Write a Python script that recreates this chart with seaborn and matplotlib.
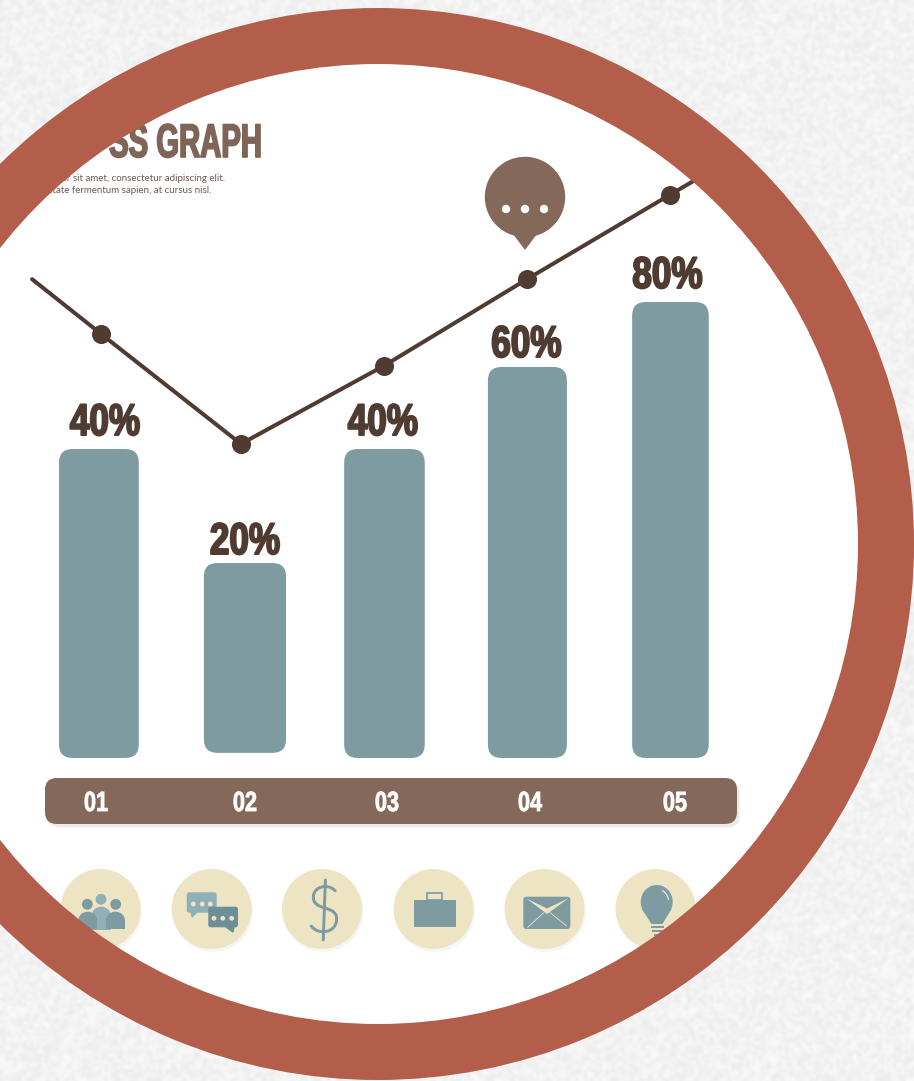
import matplotlib
matplotlib.use("Agg")
import matplotlib.patheffects as pe
import matplotlib.pyplot as plt
import numpy as np
import seaborn as sns
from matplotlib.patches import Arc, Circle, Ellipse, FancyBboxPatch, Polygon, Rectangle, Wedge
from matplotlib.transforms import Affine2D

categories = ["01", "02", "03", "04", "05"]
bar_labels = ["40%", "20%", "40%", "60%", "80%"]
bar_values = [54.2, 34.2, 54.2, 68.6, 80.0]
bar_bases = [0, 0.9, 0, 0, 0]
line_x = [-0.48, 0.004, 0.986, 1.989, 2.993, 3.996, 4.488]
line_values = [84.0, 74.4, 55.1, 68.8, 84.0, 98.8, 106.0]

RING = "#b25e4a"
TEAL = "#7d9ba1"
TEAL_LIGHT = "#8fb0b8"
TEAL_DARK = "#6d8f98"
BROWN = "#84695a"
DARK = "#4f3b32"
CREAM = "#ede4c4"
PAPER = "#efefef"
CONDENSED = ["Liberation Sans", "DejaVu Sans"]

sns.set_style("white")
plt.rcParams["font.family"] = ["Lato", "DejaVu Sans"]


class Squeezed(pe.Stroke):
    # thicker, narrower letters, the fonts here have nothing like Impact
    def __init__(self, anchor, sx, width, color):
        super().__init__(linewidth=width, foreground=color)
        self.anchor = anchor
        self.sx = sx

    def draw_path(self, renderer, gc, tpath, affine, rgbFace):
        squeeze = Affine2D().translate(-self.anchor, 0).scale(self.sx, 1).translate(self.anchor, 0)
        super().draw_path(renderer, gc, tpath, affine + squeeze, rgbFace)


def heavy_text(axis, x, y, s, size, color, sx, width, ha="center"):
    txt = axis.text(x, y, s, fontsize=size, fontweight="bold", color=color, ha=ha, va="baseline", family=CONDENSED)
    anchor = axis.transData.transform((x, y))[0]
    txt.set_path_effects([Squeezed(anchor, sx, width, color)])
    return txt


fig = plt.figure(figsize=(9.14, 10.81), dpi=100, facecolor=PAPER)


def pixel_axes(z):
    axis = fig.add_axes([0, 0, 1, 1], zorder=z)
    axis.set_xlim(0, 914)
    axis.set_ylim(1081, 0)
    axis.axis("off")
    return axis


# paper grain and white disc
back = pixel_axes(0)
yy, xx = np.mgrid[0:361, 0:305]
grain = np.modf(np.abs(np.sin(xx * 127.1 + yy * 311.7)) * 43758.5453)[0]
back.imshow(0.915 + 0.07 * grain, cmap="gray", vmin=0, vmax=1, extent=(0, 914, 1081, 0), aspect="auto", interpolation="bicubic")
back.set_xlim(0, 914)
back.set_ylim(1081, 0)
back.add_patch(Circle((378, 544), 500, color="white"))

# title, bubble, band, icons
decor = pixel_axes(1)
heavy_text(decor, 262, 157, "SS GRAPH", 34, "#7f6558", 0.62, 1.2, ha="right")
decor.text(225, 178.5, "dolor sit amet, consectetur adipiscing elit.", fontsize=7.05, color="#6b5a50", ha="right", va="center")
decor.text(211, 190.5, "Vulputate fermentum sapien, at cursus nisl.", fontsize=7.05, color="#6b5a50", ha="right", va="center")

decor.add_patch(Circle((525, 197), 39.5, color=BROWN))
decor.add_patch(Polygon([(510, 230), (540, 230), (525, 250)], color=BROWN, lw=0))
for dot_x in (506, 525, 544):
    decor.add_patch(Circle((dot_x, 209), 3.5, color="white"))

shadow = [pe.SimplePatchShadow(offset=(2, -2.5), shadow_rgbFace="#000000", alpha=0.08), pe.Normal()]
decor.add_patch(FancyBboxPatch((45, 778), 692, 46, boxstyle="round,pad=0,rounding_size=12", fc=BROWN, ec="none", path_effects=shadow))
for lab, lab_x in zip(categories, [96, 245, 387, 530, 675]):
    heavy_text(decor, lab_x, 811, lab, 20, "white", 0.78, 0.6)

soft = [pe.SimplePatchShadow(offset=(1, -2), shadow_rgbFace="#000000", alpha=0.04), pe.Normal()]
for icon_x in (100.6, 211.6, 322, 433.5, 544.5, 655.5):
    decor.add_patch(Circle((icon_x, 909), 40, fc=CREAM, ec="none", path_effects=soft))


def dome(x0, x1, top, bottom, color):
    mid = top + (x1 - x0) * 0.45
    decor.add_patch(Ellipse(((x0 + x1) / 2, mid), x1 - x0, 2 * (mid - top), color=color, lw=0))
    decor.add_patch(Rectangle((x0, mid), x1 - x0, bottom - mid, color=color, lw=0))


# people
decor.add_patch(Circle((101, 899.3), 4.7, color=TEAL_LIGHT))
dome(91.7, 110.7, 906.7, 930, TEAL_LIGHT)
for head_x, x0, x1 in ((87.3, 78.3, 97.3), (115.7, 105.7, 125)):
    decor.add_patch(Circle((head_x, 904.3), 4.7, color=TEAL))
    dome(x0, x1, 911.7, 929.3, TEAL)

# chat bubbles
decor.add_patch(FancyBboxPatch((186.7, 892.3), 30, 20.4, boxstyle="round,pad=0,rounding_size=2.5", fc=TEAL_LIGHT, ec="none"))
decor.add_patch(Polygon([(191, 912), (197, 912), (192, 917)], color=TEAL_LIGHT))
decor.add_patch(FancyBboxPatch((208.3, 906.7), 29.7, 20.6, boxstyle="round,pad=0,rounding_size=2.5", fc=TEAL_DARK, ec="none"))
decor.add_patch(Polygon([(226, 927), (234, 927), (233, 932)], color=TEAL_DARK))
for dot_x, dot_y in ((193.3, 904), (202.3, 904), (210.3, 904), (214, 918.3), (222.7, 918.3), (231.7, 918.3)):
    decor.add_patch(Circle((dot_x, dot_y), 1.7, color=CREAM))

# dollar
decor.text(324, 913, "$", fontsize=46, color=TEAL, ha="center", va="center", family=["Lato", "DejaVu Sans"], fontweight="light",
           path_effects=[pe.withStroke(linewidth=1.6, foreground=TEAL)])

# briefcase
decor.add_patch(Rectangle((413.7, 900.3), 42, 26.4, color=TEAL, lw=0))
decor.add_patch(Rectangle((427.3, 893), 14.7, 7.3, fc="none", ec=TEAL, lw=1.2))

# envelope
decor.add_patch(FancyBboxPatch((523.3, 896.7), 47, 32.3, boxstyle="round,pad=0,rounding_size=3", fc=TEAL, ec="none"))
decor.add_patch(Polygon([(526.5, 898.5), (547, 908.5), (569, 898), (547, 914)], color=CREAM, lw=0))
decor.plot([527.7, 544], [927.3, 912.5], color=CREAM, lw=0.6)
decor.plot([566.7, 550], [926, 912.5], color=CREAM, lw=0.6)

# bulb
decor.add_patch(Ellipse((656.7, 902), 32, 34, color=TEAL, lw=0))
decor.add_patch(Polygon([(642, 909), (651.5, 924), (662.5, 924), (671.5, 909)], color=TEAL, lw=0))
decor.add_patch(Rectangle((651, 925.5), 12.5, 2.5, color=TEAL, lw=0))
decor.add_patch(Rectangle((652, 929.5), 10.5, 2.5, color=TEAL, lw=0))
decor.add_patch(Rectangle((654, 933.5), 6.5, 2, color=TEAL, lw=0))
decor.add_patch(Arc((656.7, 902), 24, 26, theta1=-65, theta2=-10, color="#dfe8e8", lw=1))

# the chart itself
ax = fig.add_axes([0, 0, 1, 1], zorder=2)
ax.patch.set_alpha(0)
sns.barplot(x=categories, y=bar_values, color=TEAL, saturation=1, width=0.56, ax=ax)
ax.set_xlim(-0.705, 5.709)
ax.set_ylim(-56.67, 132.98)
ax.axis("off")

bar_shift = [-0.011, 0.014, -0.007, -0.004, 0.0]
bar_stretch = [1.0, 1.03, 1.01, 0.99, 0.96]
for bar, base, shift, stretch in zip(list(ax.patches), bar_bases, bar_shift, bar_stretch):
    w = bar.get_width() * stretch
    cx = bar.get_x() + bar.get_width() / 2 + shift
    ax.add_patch(FancyBboxPatch((cx - w / 2, base), w, bar.get_height() - base, boxstyle="round,pad=0,rounding_size=0.095", mutation_aspect=25, fc=TEAL, ec="none", clip_on=False))
    bar.remove()

sns.lineplot(x=line_x, y=line_values, color=DARK, linewidth=2.9, ax=ax, sort=False, estimator=None)
sns.scatterplot(x=line_x[1:-1], y=line_values[1:-1], color=DARK, s=188, linewidth=0, ax=ax, zorder=5)

label_shift = [0.032, 0.014, -0.018, -0.011, -0.021]
label_lift = [14, 9, 14, 10, 14]
for i, lab in enumerate(bar_labels):
    heavy_text(ax, i + label_shift[i], bar_values[i] + label_lift[i] / 5.7, lab, 32, DARK, 0.79, 1.4)

# ring on top of everything, it hides the left of the title
ring = pixel_axes(3)
ring.add_patch(Wedge((378, 544), 536, 0, 360, width=56, color=RING, lw=0))

fig.savefig("out.png", dpi=100)
